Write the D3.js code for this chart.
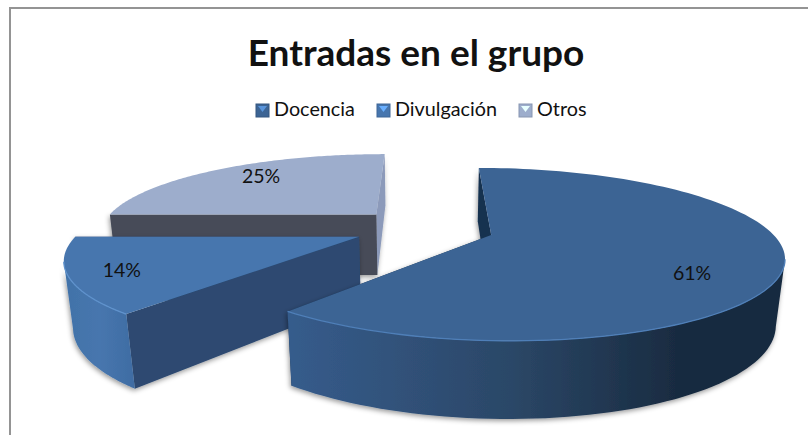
<!DOCTYPE html>
<html>
<head>
<meta charset="utf-8">
<script src="https://cdn.jsdelivr.net/npm/d3@7"></script>
<style>
  html, body { margin: 0; padding: 0; background: #fff; }
  svg { display: block; }
  text { font-family: Lato, "Open Sans", sans-serif; fill: #111; }
</style>
</head>
<body>
<div id="chart-area"></div>
<script>
const titleText = "Entradas en el grupo";
const categories = ["Docencia", "Divulgación", "Otros"];
const values = [61, 14, 25];
const topColors = ["#3c6494", "#4776ae", "#9dadcc"];
const startCutColors = ["#16304f", "#2d4a71", "#464b59"];
const endCutColors = ["#16304f", "#2d4a71", "#8c9aba"];
const sideStops = [
  ["#365c8c", "#2b4767", "#182a3f"],
  ["#4172a8", "#4776ae", "#3f6ca3"],
  ["#9dadcc", "#8c9aba", "#8c9aba"]
];
const rimColors = ["#4f7fb8", "#5f92cc", "#aebcd8"];
const labelNudge = [[-36, 16], [-3, 4], [17, 1]];

const width = 808, height = 435;

// perspective pie, worked out from the picture
const view = { cx: 424, cy: 228, rx: 277, ry: 79, k: 0.221, drop: 64, sink: 0.024, explode: 0.253 };

const svg = d3.select("#chart-area")
  .append("svg")
  .attr("width", width)
  .attr("height", height);

const defs = svg.append("defs");

const shadow = defs.append("filter")
  .attr("id", "soft")
  .attr("x", "-10%").attr("y", "-10%")
  .attr("width", "120%").attr("height", "125%");
shadow.append("feDropShadow")
  .attr("dx", -1).attr("dy", 2)
  .attr("stdDeviation", 2.5)
  .attr("flood-color", "#000")
  .attr("flood-opacity", 0.4);

// chart frame, only top and left show in the crop
svg.append("path")
  .attr("d", "M10,435V8H808")
  .attr("fill", "none")
  .attr("stroke", "#949494")
  .attr("stroke-width", 2);

svg.append("text")
  .attr("x", 416)
  .attr("y", 66)
  .attr("text-anchor", "middle")
  .attr("font-size", "37px")
  .attr("font-weight", 700)
  .text(titleText);

// ---- legend
const legendX = d3.scaleOrdinal()
  .domain(categories)
  .range([256, 377, 519]);

categories.forEach((name, i) => {
  const g = svg.append("g")
    .attr("transform", "translate(" + legendX(name) + ", 104)");
  g.append("rect")
    .attr("width", 13).attr("height", 13)
    .attr("fill", topColors[i])
    .attr("stroke", d3.color(topColors[i]).darker(0.4));
  g.append("path")
    .attr("d", "M2,2H11L6.5,8Z")
    .attr("fill", d3.color(topColors[i]).brighter(1.1));
  g.append("text")
    .attr("x", 18)
    .attr("y", 12)
    .attr("font-size", "19.8px")
    .text(name);
});

// ---- slices
const pie = d3.pie().sort(null).value((d) => d);
const arcs = pie(values);

function project(u, v, bottom) {
  const d = 1 + view.k * v + (bottom ? view.sink : 0);
  return [
    view.cx + view.rx * u / d,
    view.cy + (-view.ry * v + (bottom ? view.drop : 0)) / d
  ];
}

function apex(a) {
  const mid = (a.startAngle + a.endAngle) / 2;
  return [view.explode * Math.sin(mid), view.explode * Math.cos(mid)];
}

function rimPoint(o, angle, bottom) {
  return project(o[0] + Math.sin(angle), o[1] + Math.cos(angle), bottom);
}

// does the outer wall face the camera at this angle
function faces(o, angle) {
  const u = o[0] + Math.sin(angle), v = o[1] + Math.cos(angle);
  return -u * Math.sin(angle) - (1 / view.k + v) * Math.cos(angle) > 0;
}

const line = d3.line();

// draw far slice first, near slice last
[2, 1, 0].forEach((i) => {
  const a = arcs[i];
  const o = apex(a);
  const angles = d3.range(0, 121).map((t) => a.startAngle + (a.endAngle - a.startAngle) * t / 120);
  const g = svg.append("g");
  const body = g.append("g").attr("filter", "url(#soft)");

  // cut faces
  const cut = (angle, color) => {
    body.append("path")
      .attr("d", line([
        project(o[0], o[1], false),
        rimPoint(o, angle, false),
        rimPoint(o, angle, true),
        project(o[0], o[1], true)
      ]) + "Z")
      .attr("fill", color);
  };
  cut(a.endAngle, endCutColors[i]);
  cut(a.startAngle, startCutColors[i]);

  // outer wall
  const seen = angles.filter((t) => faces(o, t));
  if (seen.length > 1) {
    const wall = seen.map((t) => rimPoint(o, t, false))
      .concat(seen.slice().reverse().map((t) => rimPoint(o, t, true)));
    const xs = wall.map((p) => p[0]);
    const grad = defs.append("linearGradient")
      .attr("id", "wall" + i)
      .attr("gradientUnits", "userSpaceOnUse")
      .attr("x1", d3.min(xs)).attr("y1", 0)
      .attr("x2", d3.max(xs)).attr("y2", 0);
    sideStops[i].forEach((c, j) => {
      grad.append("stop")
        .attr("offset", i === 0 ? [0, 0.45, 0.8][j] : j / 2)
        .attr("stop-color", c);
    });
    body.append("path")
      .attr("d", line(wall) + "Z")
      .attr("fill", "url(#wall" + i + ")");
  }

  // top face
  const topFace = [project(o[0], o[1], false)].concat(angles.map((t) => rimPoint(o, t, false)));
  g.append("path")
    .attr("d", line(topFace) + "Z")
    .attr("fill", topColors[i]);

  // light edge along the visible rim
  if (seen.length > 1) {
    g.append("path")
      .attr("d", line(seen.map((t) => rimPoint(o, t, false))))
      .attr("fill", "none")
      .attr("stroke", rimColors[i])
      .attr("stroke-width", 1.3);
  }

  // value label
  const mid = (a.startAngle + a.endAngle) / 2;
  const lp = project(o[0] + 0.82 * Math.sin(mid), o[1] + 0.82 * Math.cos(mid), false);
  a.label = { text: values[i] + "%", x: lp[0] + labelNudge[i][0], y: lp[1] + labelNudge[i][1] };
});

arcs.forEach((a) => {
  svg.append("text")
    .attr("x", a.label.x)
    .attr("y", a.label.y)
    .attr("text-anchor", "middle")
    .attr("dominant-baseline", "middle")
    .attr("font-size", "19.5px")
    .text(a.label.text);
});
</script>
</body>
</html>
